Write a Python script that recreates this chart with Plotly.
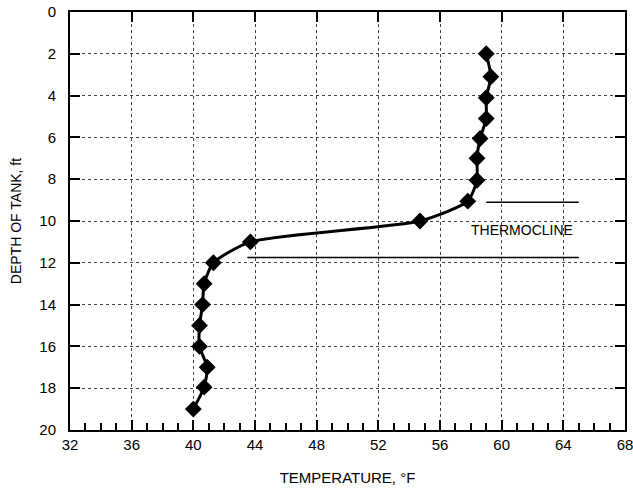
import plotly.graph_objects as go

depth = [2.0, 3.1, 4.1, 5.1, 6.05, 7.0, 8.05, 9.05, 10.0, 11.0, 12.0, 13.0, 14.0, 15.0, 16.0, 17.0, 17.95, 19.0]
temp = [59.0, 59.3, 59.0, 59.0, 58.6, 58.4, 58.4, 57.8, 54.7, 43.7, 41.3, 40.7, 40.6, 40.4, 40.4, 40.9, 40.7, 40.0]

upper_line_x = [59.0, 65.0]
upper_line_y = [9.1, 9.1]
lower_line_x = [43.5, 65.0]
lower_line_y = [11.75, 11.75]
label_text = "THERMOCLINE"
label_pos = (61.3, 10.45)

x_ticks = [32, 36, 40, 44, 48, 52, 56, 60, 64, 68]
y_ticks = [0, 2, 4, 6, 8, 10, 12, 14, 16, 18, 20]

FONT = "Liberation Sans, Arial, sans-serif"

fig = go.Figure()
fig.add_trace(go.Scatter(
    x=temp, y=depth, mode="lines+markers",
    line=dict(color="black", width=3, shape="spline", smoothing=0.6),
    marker=dict(symbol="diamond", size=13, color="black"),
    showlegend=False, hoverinfo="skip"))
fig.add_trace(go.Scatter(x=upper_line_x, y=upper_line_y, mode="lines",
                         line=dict(color="black", width=1.5), showlegend=False, xaxis="x2",
                         hoverinfo="skip"))
fig.add_trace(go.Scatter(x=lower_line_x, y=lower_line_y, mode="lines",
                         line=dict(color="black", width=1.5), showlegend=False, xaxis="x2",
                         hoverinfo="skip"))
fig.add_annotation(x=label_pos[0], y=label_pos[1], text=label_text, showarrow=False,
                   font=dict(family=FONT, size=14, color="black"))

fig.update_layout(
    width=633, height=488,
    margin=dict(l=70, r=8, t=12, b=58),
    paper_bgcolor="white", plot_bgcolor="white",
    font=dict(family=FONT, size=15, color="black"),
    xaxis=dict(
        range=[32, 68], tickvals=x_ticks, ticktext=[str(v) for v in x_ticks],
        ticks="inside", ticklen=10, tickwidth=1.5, tickcolor="black",
        showline=True, linecolor="black", linewidth=2,
        showgrid=True, gridcolor="#444", griddash="dot", gridwidth=1,
        zeroline=False, ticklabelstandoff=0, automargin=False, ticklabeloverflow="allow",
        minor=dict(dtick=1, ticks="inside", ticklen=7, tickwidth=1.5, tickcolor="black", showgrid=False),
        title=dict(text="TEMPERATURE, °F", font=dict(size=15), standoff=20),
    ),
    xaxis2=dict(
        range=[32, 68], overlaying="x", side="top", anchor="y",
        tickvals=x_ticks, showticklabels=False, automargin=False,
        ticks="inside", ticklen=10, tickwidth=1.5, tickcolor="black",
        showline=True, linecolor="black", linewidth=2, showgrid=False, zeroline=False,
    ),
    yaxis=dict(
        range=[20, 0], tickvals=y_ticks, ticktext=[str(v) for v in y_ticks],
        ticks="inside", ticklen=10, tickwidth=1.5, tickcolor="black",
        showline=True, linecolor="black", linewidth=2, mirror="ticks",
        showgrid=True, gridcolor="#444", griddash="dot", gridwidth=1,
        zeroline=False, ticklabelstandoff=9, automargin=False, ticklabeloverflow="allow",
        title=dict(text="DEPTH OF TANK, ft", font=dict(size=14), standoff=14),
    ),
)

# remove the default 8px page margin so the 633x488 figure fills the window
fig.write_html("out.html", config={"displayModeBar": False},
               post_script="document.body.style.margin='0';")
